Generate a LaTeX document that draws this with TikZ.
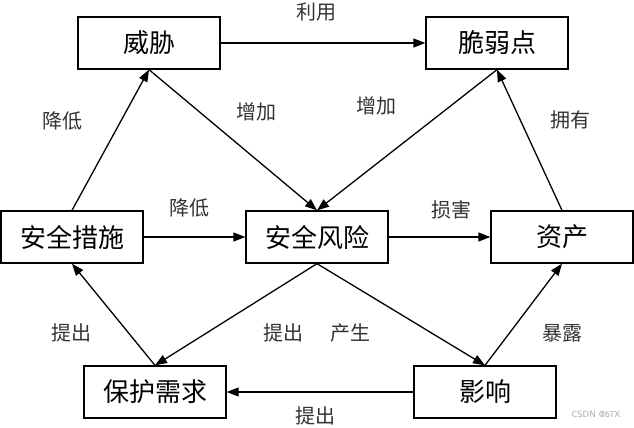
\documentclass[tikz,border=0pt]{standalone}
\usepackage{fontspec}
\newfontfamily\cjk{Noto Sans CJK SC}
\usetikzlibrary{arrows.meta}
\tikzset{
	box/.style={draw, line width=1.3pt, minimum width=142pt, minimum height=52pt, inner sep=0pt, font=\cjk\fontsize{26}{26}\selectfont},
	lbl/.style={font=\cjk\fontsize{20}{20}\selectfont, text=black!80},
	link/.style={line width=1.3pt, -{Triangle[length=12pt,width=9pt]}}
}
\begin{document}
\begin{tikzpicture}[x=1pt, y=-1pt]
			\useasboundingbox (0,0) rectangle (634,428);
			\foreach \coord/\name/\txt in {
				{149,43}/threat/威胁,
				{497,43}/vuln/脆弱点,
				{72,237}/measure/安全措施,
				{317,237}/risk/安全风险,
				{562,237}/asset/资产,
				{155,392}/need/保护需求,
				{485,392}/impact/影响
			}{
			\node[box] (\name) at (\coord) {\txt};
			}
			\foreach \coord/\name/\txt in {
				{316,12}/use/利用,
				{62,121}/lowerA/降低,
				{256,112}/raiseA/增加,
				{376,106}/raiseB/增加,
				{570,120}/own/拥有,
				{189,208}/lowerB/降低,
				{451,210}/harm/损害,
				{71,333}/proposeA/提出,
				{283,333}/proposeB/提出,
				{350,333}/cause/产生,
				{562,333}/expose/暴露,
				{315,416}/proposeC/提出
			}{
			\node[lbl] (\name) at (\coord) {\txt};
			}
			\draw[link] (threat) -- (vuln);
			\draw[link] (measure.north) -- (threat.south);
			\draw[link] (threat.south) -- (risk.north);
			\draw[link] (vuln.south) -- (risk.north);
			\draw[link] (asset.north) -- (vuln.south);
			\draw[link] (measure) -- (risk);
			\draw[link] (risk) -- (asset);
			\draw[link] (risk.south) -- (need.north);
			\draw[link] (risk.south) -- (impact.north);
			\draw[link] (impact.north) -- (asset.south);
			\draw[link] (need.north) -- (measure.south);
			\draw[link] (impact) -- (need);
			\node[font=\sffamily\fontsize{9}{9}\selectfont, text=black!35] (mark) at (596,414) {CSDN @67X};
\end{tikzpicture}
\end{document}
